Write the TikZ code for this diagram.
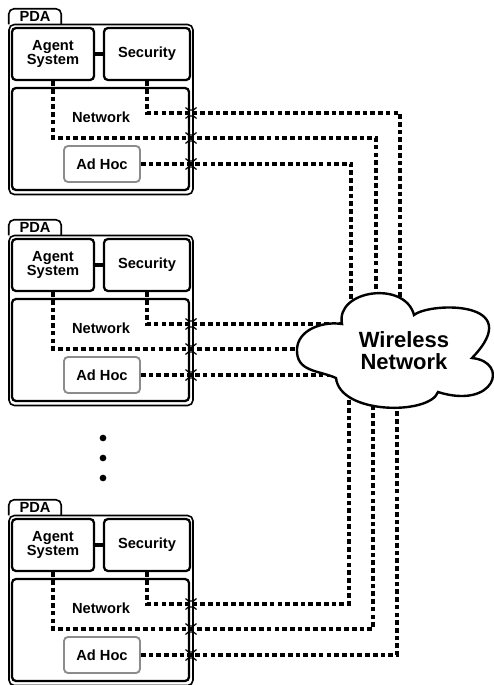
\documentclass[tikz,border=0pt]{standalone}
\usepackage{fontspec}
\setmainfont{Liberation Sans}
\def\pxu{0.75pt}
\begin{document}
\begin{tikzpicture}[x=0.75pt,y=-0.75pt,
 lbl/.style={font=\bfseries\fontsize{11}{11}\selectfont, inner sep=0pt, align=center},
 pbox/.style={lbl, draw, line width=1.7pt, rounded corners=3pt},
 obox/.style={draw, line width=1.2pt, rounded corners=4pt, inner sep=0pt},
 gbox/.style={pbox, draw=black!45, line width=1.4pt},
 dl/.style={line width=2.4pt, dash pattern=on 3.5pt off 2.3pt},
 jump/.style={line width=0.9pt},
 link/.style={line width=2.4pt},
 dot/.style={circle, fill, inner sep=0pt, minimum size=5pt},
 cloudsh/.style={draw, fill=white, line width=1.8pt}]
\useasboundingbox (0,0) rectangle (493,685);

\foreach \n/\d in {A/0,B/211,C/491}{
  \node[obox, minimum width=184*\pxu, minimum height=170*\pxu] (pda\n) at (101,\d+109.5) {};
  \node[lbl, minimum width=52*\pxu, minimum height=15*\pxu] (tab\n) at (35,\d+16.5) {PDA};
  \draw[line width=1.2pt, rounded corners=4pt] (tab\n.south west) -- (tab\n.north west) -- (tab\n.north east) -- (tab\n.south east);
  \node[pbox, minimum width=82*\pxu, minimum height=52*\pxu] (ag\n) at (53,\d+54) {Agent\\System};
  \node[pbox, minimum width=86*\pxu, minimum height=52*\pxu] (sec\n) at (147,\d+54) {Security};
  \node[pbox, minimum width=177*\pxu, minimum height=102*\pxu] (net\n) at (100.5,\d+139) {};
  \node[lbl] (netl\n) at (101,\d+117) {Network};
  \node[gbox, minimum width=76*\pxu, minimum height=36*\pxu] (ah\n) at (102,\d+164) {Ad Hoc};
  \draw[link] (ag\n.east) -- (sec\n.west);
  \coordinate (p\n1) at (191,\d+113);
  \coordinate (p\n2) at (191,\d+138);
  \coordinate (p\n3) at (191,\d+164);
  \foreach \k in {1,2,3}{
    \draw[jump] (p\n\k) ++(-5.5,-5.5) .. controls +(2,3.5) and +(-2,3.5) .. ++(11,0);
    \draw[jump] (p\n\k) ++(-5.5,5.5) .. controls +(2,-3.5) and +(-2,-3.5) .. ++(11,0);
  }
}

% ends inside the cloud
\coordinate (t1) at (400,330);
\coordinate (t2) at (376,330);
\coordinate (t3) at (351,330);
\coordinate (m1) at (360,324);
\coordinate (m2) at (360,349);
\coordinate (m3) at (360,375);
\coordinate (b1) at (349,385);
\coordinate (b2) at (373,385);
\coordinate (b3) at (397,385);

\draw[dl] (secA.south) |- (pA1) -| (t1);
\draw[dl] (agA.south) |- (pA2) -| (t2);
\draw[dl] (ahA.east) -- (pA3) -| (t3);

\draw[dl] (secB.south) |- (pB1) -- (m1);
\draw[dl] (agB.south) |- (pB2) -- (m2);
\draw[dl] (ahB.east) -- (pB3) -- (m3);

\draw[dl] (secC.south) |- (pC1) -| (b1);
\draw[dl] (agC.south) |- (pC2) -| (b2);
\draw[dl] (ahC.east) -- (pC3) -| (b3);

% cloud
\draw[cloudsh] (336,378) .. controls (318,370) and (296,372) .. (297,349)
  .. controls (298,330) and (322,321) .. (342,324)
  .. controls (335,290) and (405,280) .. (414,315)
  .. controls (430,302) and (528,300) .. (472,358)
  .. controls (510,362) and (495,410) .. (438,392)
  .. controls (430,415) and (340,415) .. (336,378) -- cycle;
\node[font=\bfseries\fontsize{16.5}{16.5}\selectfont, align=center, inner sep=0pt] (wl) at (404,351) {Wireless\\Network};

\node[dot] (d1) at (103,438) {};
\node[dot] (d2) at (103,458) {};
\node[dot] (d3) at (103,478) {};
\end{tikzpicture}
\end{document}
